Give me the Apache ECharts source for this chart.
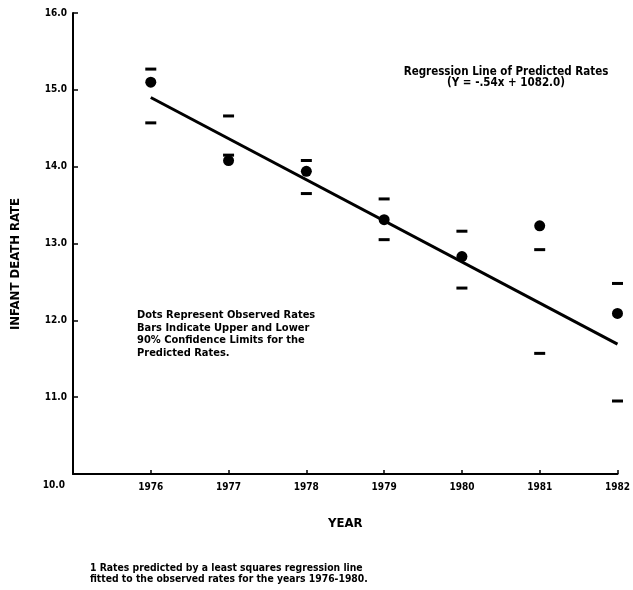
<!DOCTYPE html>
<html>
<head>
<meta charset="utf-8">
<style>html,body{margin:0;padding:0;background:#fff}#c{width:633px;height:590px}</style>
<script src="https://cdn.jsdelivr.net/npm/echarts@6/dist/echarts.min.js"></script>
</head>
<body>
<div id="c"></div>
<script>
const years = [1976, 1977, 1978, 1979, 1980, 1981, 1982];
const observed = [15.10, 14.08, 13.94, 13.31, 12.83, 13.23, 12.09];
const upper = [15.27, 14.66, 14.08, 13.58, 13.16, 12.92, 12.48];
const lower = [14.57, 14.15, 13.65, 13.05, 12.42, 11.57, 10.95];
const regressionYears = [1976, 1982];
const regressionValues = [14.90, 11.69];
const yTicks = [10, 11, 12, 13, 14, 15, 16];

const FONT = "'Liberation Sans Narrow','DejaVu Sans Condensed','Liberation Sans',sans-serif";
const chart = echarts.init(document.getElementById('c'), null, {renderer: 'canvas'});

const pairs = (xs, ys) => xs.map((x, i) => [x, ys[i]]);

chart.setOption({
  animation: false,
  backgroundColor: '#fff',
  textStyle: {fontFamily: FONT, fontWeight: 'bold', color: '#000'},
  grid: {left: 73, right: 11, top: 13, bottom: 116, containLabel: false},
  xAxis: {
    type: 'value', min: 1975, max: 1982, interval: 1,
    name: 'YEAR', nameLocation: 'middle', nameGap: 43,
    nameTextStyle: {fontFamily: FONT, fontWeight: 'bold', fontSize: 13, color: '#000'},
    axisLine: {lineStyle: {color: '#000', width: 2}},
    axisTick: {inside: true, length: 4, lineStyle: {color: '#000', width: 1.5}},
    splitLine: {show: false},
    axisLabel: {
      margin: 8, color: '#000', fontFamily: FONT, fontWeight: 'bold', fontSize: 10,
      formatter: v => (years.includes(v) ? String(v) : '')
    }
  },
  yAxis: {
    type: 'value', min: yTicks[0], max: yTicks[yTicks.length - 1], interval: 1,
    axisLine: {show: true, lineStyle: {color: '#000', width: 2}},
    axisTick: {show: true, inside: true, length: 5, lineStyle: {color: '#000', width: 1.5}},
    splitLine: {show: false},
    axisLabel: {
      margin: 6, color: '#000', fontFamily: FONT, fontWeight: 'bold', fontSize: 10,
      formatter: v => (v === yTicks[0] ? '{low|' + v.toFixed(1) + '}' : v.toFixed(1)),
      rich: {low: {fontFamily: FONT, fontWeight: 'bold', fontSize: 10, color: '#000', padding: [22, 2, 0, 0]}}
    }
  },
  series: [
    {
      type: 'line', name: 'Regression',
      data: pairs(regressionYears, regressionValues),
      symbol: 'none', lineStyle: {color: '#000', width: 3}, z: 3
    },
    {
      type: 'scatter', name: 'Observed',
      data: pairs(years, observed),
      symbol: 'circle', symbolSize: 11, itemStyle: {color: '#000', opacity: 1}, z: 4
    },
    {
      type: 'scatter', name: 'Upper',
      data: pairs(years, upper),
      symbol: 'rect', symbolSize: [11, 3], itemStyle: {color: '#000', opacity: 1}, z: 4
    },
    {
      type: 'scatter', name: 'Lower',
      data: pairs(years, lower),
      symbol: 'rect', symbolSize: [11, 3], itemStyle: {color: '#000', opacity: 1}, z: 4
    }
  ],
  graphic: [
    {
      type: 'text', x: 506, y: 67,
      style: {
        text: 'Regression Line of Predicted Rates\n(Y = -.54x + 1082.0)',
        fontFamily: FONT, fontWeight: 'bold', fontSize: 11.5, fill: '#000',
        align: 'center', verticalAlign: 'top', lineHeight: 11
      }
    },
    {
      type: 'text', x: 137, y: 309,
      style: {
        text: 'Dots Represent Observed Rates\nBars Indicate Upper and Lower\n90% Confidence Limits for the\nPredicted Rates.',
        fontFamily: FONT, fontWeight: 'bold', fontSize: 11, fill: '#000', lineHeight: 12.5,
        verticalAlign: 'top'
      }
    },
    {
      type: 'text', x: 16, y: 264, rotation: Math.PI / 2,
      style: {
        text: 'INFANT DEATH RATE',
        fontFamily: FONT, fontWeight: 'bold', fontSize: 13, fill: '#000',
        align: 'center', verticalAlign: 'middle'
      }
    },
    {
      type: 'text', x: 90, y: 563,
      style: {
        text: '1 Rates predicted by a least squares regression line\nfitted to the observed rates for the years 1976-1980.',
        fontFamily: FONT, fontWeight: 'bold', fontSize: 10.3, fill: '#000', lineHeight: 11,
        verticalAlign: 'top'
      }
    }
  ]
});
</script>
</body>
</html>
